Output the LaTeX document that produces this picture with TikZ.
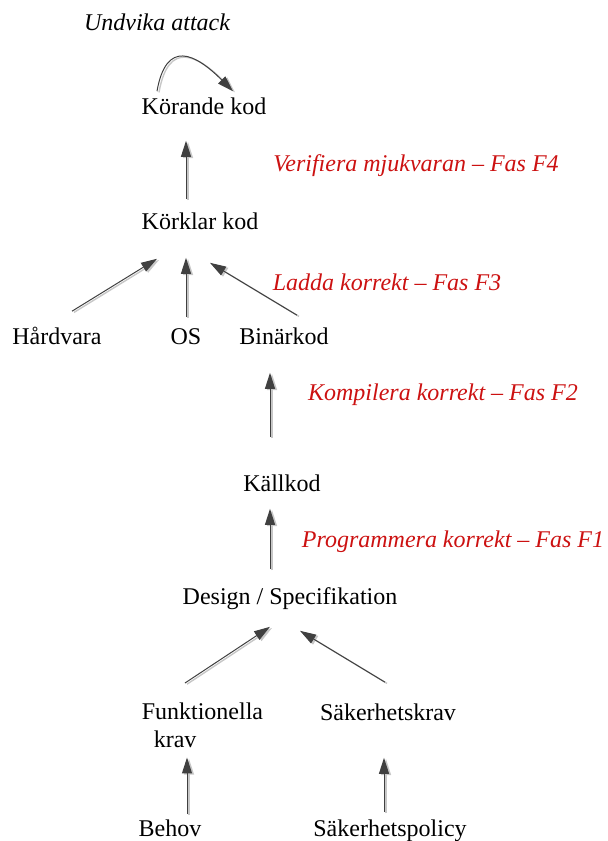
\documentclass[tikz,border=0pt]{standalone}
\usepackage{fontspec}
\setmainfont{Liberation Serif}
\usepackage{tikz}
\usetikzlibrary{arrows.meta}

\definecolor{fasred}{HTML}{CC1111}
\definecolor{pildark}{HTML}{404040}

\begin{document}
\begin{tikzpicture}[x=0.5pt,y=-0.5pt,thick]

			\tikzstyle{every node}=[inner sep=0pt,font=\fontsize{12pt}{14pt}\selectfont]
			\tikzstyle{steg}=[text height=9pt,text depth=3pt]
			\tikzstyle{fas}=[text=fasred,font=\fontsize{12pt}{14pt}\selectfont\itshape]
			\tikzstyle{pil}=[-{Triangle[length=8pt,width=5pt]},draw=pildark,line width=0.5pt,
				preaction={draw=black!22,line width=0.7pt,transform canvas={shift={(1pt,-0.6pt)}}}]

			\useasboundingbox (0,0) rectangle (608,841);

			\node (undvika) at (157,22) {\itshape Undvika attack};
			\node[steg] (korande) at (204,108) {Körande kod};
			\node[steg] (korklar) at (200,223) {Körklar kod};
			\node[steg] (hardvara) at (57,338) {Hårdvara};
			\node[steg] (os) at (186,338) {OS};
			\node[steg] (binar) at (284,338) {Binärkod};
			\node[steg] (kallkod) at (282,485) {Källkod};
			\node[steg] (design) at (290,598) {Design / Specifikation};
			\node[anchor=north west,align=left] (funk) at (141,702) {Funktionella\\\hspace*{0.5em}krav};
			\node[steg] (sakkrav) at (388,714) {Säkerhetskrav};
			\node[steg] (behov) at (170,830) {Behov};
			\node[steg] (policy) at (390,830) {Säkerhetspolicy};

			\node[fas] (f4) at (416,166) {Verifiera mjukvaran – Fas F4};
			\node[fas] (f3) at (387,282) {Ladda korrekt – Fas F3};
			\node[fas] (f2) at (443,395) {Kompilera korrekt – Fas F2};
			\node[fas] (f1) at (453,542) {Programmera korrekt – Fas F1};

			% undvika attack
			\draw[pil] ([xshift=-23.5pt,yshift=2pt]korande.north) to[out=80,in=135,looseness=1.8] ([xshift=14.5pt,yshift=2pt]korande.north);

			\draw[pil] ([xshift=-7pt,yshift=5.5pt]korklar.north) -- ([xshift=-9pt,yshift=-10pt]korande.south);
			\draw[pil] ([xshift=7.5pt,yshift=7pt]hardvara.north) -- ([xshift=-21.5pt,yshift=-11.5pt]korklar.south);
			\draw[pil] ([yshift=4pt]os.north) -- ([xshift=-7pt,yshift=-11pt]korklar.south);
			\draw[pil] ([xshift=6.5pt,yshift=5pt]binar.north) -- ([xshift=5pt,yshift=-13.5pt]korklar.south);
			\draw[pil] ([xshift=-6pt,yshift=17.5pt]kallkod.north) -- ([xshift=-7pt,yshift=-11pt]binar.south);
			\draw[pil] ([xshift=-10pt,yshift=8pt]design.north) -- ([xshift=-6pt,yshift=-5.5pt]kallkod.south);
			\draw[pil] ([xshift=22pt,yshift=9.5pt]funk.north west) -- ([xshift=-10pt,yshift=-8pt]design.south);
			\draw[pil] ([xshift=-1.5pt,yshift=9.5pt]sakkrav.north) -- ([xshift=5pt,yshift=-10pt]design.south);
			\draw[pil] ([xshift=8.5pt,yshift=1.5pt]behov.north) -- ([xshift=23pt,yshift=-4.5pt]funk.south west);
			\draw[pil] ([xshift=-3pt,yshift=2.5pt]policy.north) -- ([xshift=-2pt,yshift=-15.5pt]sakkrav.south);
\end{tikzpicture}
\end{document}
